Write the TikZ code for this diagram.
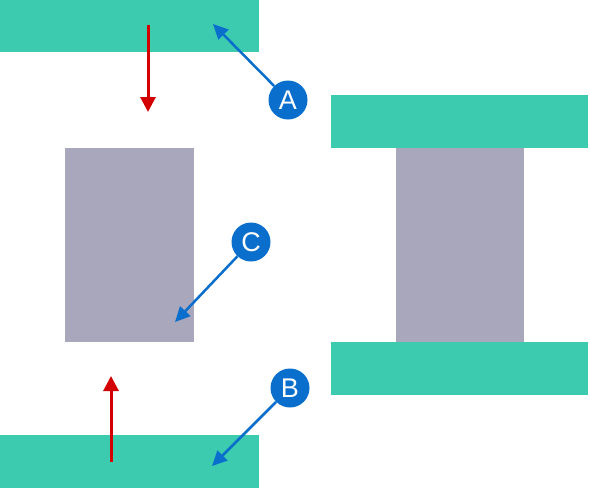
\documentclass[tikz,border=0pt]{standalone}
\usepackage{fontspec}
\setmainfont{Liberation Sans}
\usetikzlibrary{arrows.meta}
\definecolor{plate}{HTML}{3CCBAF}
\definecolor{core}{HTML}{A9A7BB}
\definecolor{lblue}{HTML}{0A6FCC}
\definecolor{fred}{HTML}{D40000}
\tikzset{
  platebox/.style={fill=plate,draw=none},
  corebox/.style={fill=core,draw=none},
  badge/.style={circle,fill=lblue,draw=none,minimum size=39pt,inner sep=0pt,text=white,font=\fontsize{27}{27}\selectfont},
  pointer/.style={draw=lblue,line width=2.5pt,-{Triangle[length=15pt,width=14pt]}},
  force/.style={draw=fred,line width=3pt,-{Triangle[length=15pt,width=15pt]}}
}
\begin{document}
\begin{tikzpicture}[x=1pt,y=-1pt]
\useasboundingbox (0,0) rectangle (590,488);
% left assembly
\path[platebox] (0,0) rectangle (259,52);
\path[platebox] (0,435) rectangle (259,488);
\path[corebox] (65,148) rectangle (194,342);
% right assembly
\path[corebox] (396,148) rectangle (524,342);
\path[platebox] (331,95) rectangle (588,148);
\path[platebox] (331,342) rectangle (588,395);
% force arrows
\coordinate (f1s) at (148,25);
\coordinate (f1e) at (148,112);
\coordinate (f2s) at (111,462);
\coordinate (f2e) at (111,376);
\draw[force] (f1s) -- (f1e);
\draw[force] (f2s) -- (f2e);
% badges
\node[badge] (A) at (288,100) {A};
\node[badge] (C) at (251,242) {C};
\node[badge] (B) at (290,388) {B};
\coordinate (ta) at (213,24);
\coordinate (tc) at (175,322);
\coordinate (tb) at (212,466);
\draw[pointer] (A) -- (ta);
\draw[pointer] (C) -- (tc);
\draw[pointer] (B) -- (tb);
\end{tikzpicture}
\end{document}
